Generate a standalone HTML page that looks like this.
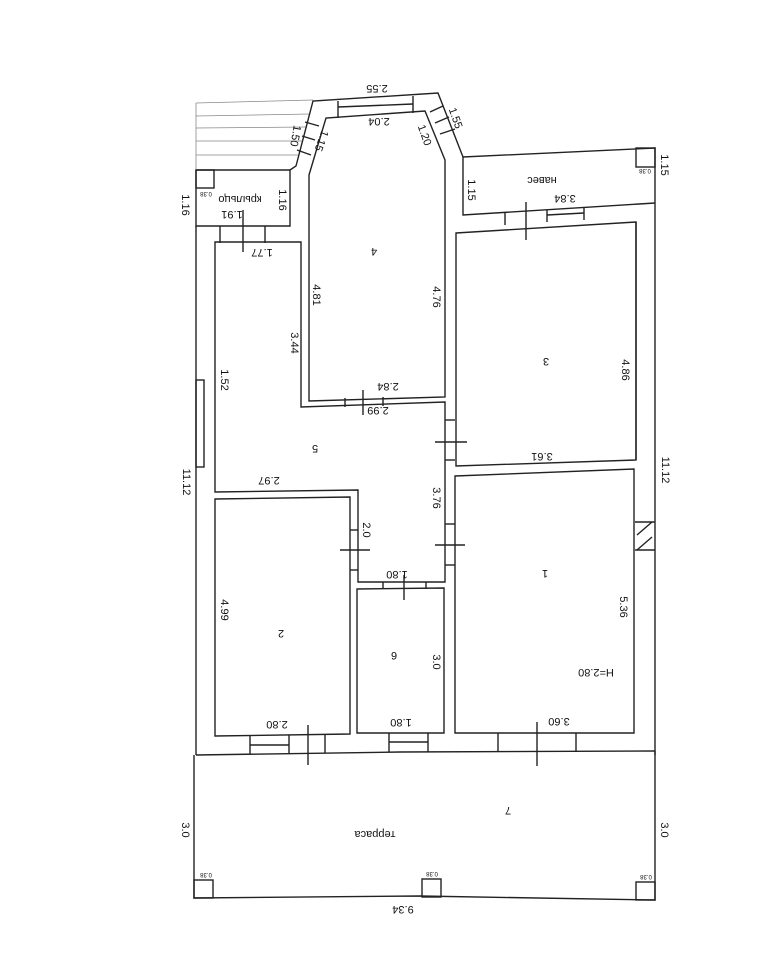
<!DOCTYPE html>
<html><head><meta charset="utf-8"><style>
html,body{margin:0;padding:0;background:#fff;}
svg{display:block}
text{font-family:"Liberation Sans",sans-serif;fill:#111;}
</style></head><body>
<svg width="776" height="970" viewBox="0 0 776 970" xmlns="http://www.w3.org/2000/svg">
<g fill="none" stroke="#222" stroke-width="1.4">
<!-- hatched area -->
<g stroke-width="0.8" stroke="#888">
<line x1="196" y1="103" x2="313" y2="100"/>
<line x1="196" y1="116" x2="310" y2="114"/>
<line x1="196" y1="128" x2="306" y2="127"/>
<line x1="196" y1="141" x2="303" y2="141"/>
<line x1="196" y1="155" x2="299" y2="155"/>
<line x1="196" y1="103" x2="196" y2="170"/>
</g>
<!-- outer bay -->
<polyline points="290,170 296,166 313,101 438,93 463,157 655,148 655,755"/>
<!-- inner bay / room 4 -->
<polygon points="309,175 326,118 425,111 445,160 445,397 309,401"/>
<line x1="338" y1="101" x2="338" y2="118"/><line x1="413" y1="96" x2="413" y2="113"/>
<line x1="338" y1="107" x2="413" y2="104"/>
<line x1="305" y1="122" x2="319" y2="126"/><line x1="297" y1="150" x2="311" y2="155"/>
<line x1="302" y1="136" x2="315" y2="140"/>
<line x1="430" y1="112" x2="443" y2="106"/><line x1="440" y1="134" x2="455" y2="129"/>
<line x1="435" y1="123" x2="449" y2="117"/>
<!-- крыльцо -->
<polyline points="196,170 196,226 290,226 290,170 196,170"/>
<rect x="196" y="170" width="18" height="18"/>
<line x1="220" y1="226" x2="220" y2="243"/><line x1="265" y1="226" x2="265" y2="243"/>
<line x1="243" y1="210" x2="243" y2="252"/>
<!-- навес -->
<polyline points="463,157 463,215 655,203"/>
<rect x="636" y="148" width="19" height="19"/>
<line x1="505" y1="213" x2="505" y2="225"/><line x1="547" y1="210" x2="547" y2="222"/><line x1="584" y1="208" x2="584" y2="220"/>
<line x1="547" y1="215" x2="584" y2="213"/>
<line x1="526" y1="202" x2="526" y2="240"/>
<!-- left outer wall -->
<line x1="196" y1="226" x2="196" y2="755"/>
<rect x="196" y="380" width="8" height="87"/>
<!-- room 5 -->
<polygon points="215,242 301,242 301,407 445,402 445,582 358,582 358,490 215,492"/>
<line x1="345" y1="398" x2="345" y2="407"/><line x1="383" y1="397" x2="383" y2="406"/>
<line x1="363" y1="390" x2="363" y2="415"/>
<line x1="445" y1="420" x2="455" y2="420"/><line x1="445" y1="460" x2="455" y2="460"/>
<line x1="435" y1="442" x2="467" y2="442"/>
<line x1="445" y1="524" x2="455" y2="524"/><line x1="445" y1="565" x2="455" y2="565"/>
<line x1="435" y1="545" x2="465" y2="545"/>
<!-- room 3 -->
<polygon points="456,233 636,222 636,460 456,466"/>
<line x1="636" y1="222" x2="636" y2="460"/>
<!-- room 1 -->
<polygon points="455,476 634,469 634,733 455,733"/>
<line x1="635" y1="522" x2="655" y2="522"/><line x1="635" y1="550" x2="655" y2="550"/>
<line x1="637" y1="535" x2="652" y2="522"/><line x1="637" y1="550" x2="652" y2="537"/>
<!-- room 2 -->
<polygon points="215,499 350,497 350,734 215,736"/>
<line x1="350" y1="530" x2="358" y2="530"/><line x1="350" y1="570" x2="358" y2="570"/>
<line x1="340" y1="550" x2="370" y2="550"/>
<!-- room 6 -->
<polygon points="357,589 444,588 444,733 357,733"/>
<line x1="383" y1="582" x2="383" y2="589"/><line x1="426" y1="582" x2="426" y2="589"/>
<line x1="404" y1="575" x2="404" y2="600"/>
<!-- south wall openings -->
<line x1="250" y1="735" x2="250" y2="754"/><line x1="289" y1="735" x2="289" y2="754"/>
<line x1="250" y1="745" x2="289" y2="745"/>
<line x1="325" y1="735" x2="325" y2="753"/><line x1="308" y1="725" x2="308" y2="765"/>
<line x1="389" y1="733" x2="389" y2="752"/><line x1="428" y1="733" x2="428" y2="752"/>
<line x1="389" y1="742" x2="428" y2="742"/>
<line x1="498" y1="733" x2="498" y2="752"/><line x1="576" y1="733" x2="576" y2="752"/>
<line x1="537" y1="722" x2="537" y2="766"/>
<!-- terrace -->
<polyline points="196,755 400,752 655,751"/>
<polyline points="194,755 194,898 420,896 655,900 655,751"/>
<rect x="194" y="880" width="19" height="18"/>
<rect x="422" y="879" width="19" height="18"/>
<rect x="636" y="882" width="19" height="18"/>
</g>
<g font-size="11">
<g transform="rotate(180 377 89)"><text x="377" y="93" text-anchor="middle">2.55</text></g>
<g transform="rotate(180 379 122)"><text x="379" y="126" text-anchor="middle">2.04</text></g>
<g transform="rotate(100 296 136)"><text x="296" y="140" text-anchor="middle">1.50</text></g>
<g transform="rotate(110 322 141)"><text x="322" y="145" text-anchor="middle">1.15</text></g>
<g transform="rotate(70 425 135)"><text x="425" y="139" text-anchor="middle">1.20</text></g>
<g transform="rotate(70 456 118)"><text x="456" y="122" text-anchor="middle">1.55</text></g>
<g transform="rotate(90 186 205)"><text x="186" y="209" text-anchor="middle">1.16</text></g>
<g transform="rotate(90 283 200)"><text x="283" y="204" text-anchor="middle">1.16</text></g>
<g transform="rotate(180 240 200)"><text x="240" y="204" text-anchor="middle">крыльцо</text></g>
<g transform="rotate(180 232 215)"><text x="232" y="219" text-anchor="middle">1.91</text></g>
<g transform="rotate(180 262 253)"><text x="262" y="257" text-anchor="middle">1.77</text></g>
<g transform="rotate(90 472 190)"><text x="472" y="194" text-anchor="middle">1.15</text></g>
<g transform="rotate(90 665 165)"><text x="665" y="169" text-anchor="middle">1.15</text></g>
<g transform="rotate(180 542 181)"><text x="542" y="185" text-anchor="middle">навес</text></g>
<g transform="rotate(180 565 199)"><text x="565" y="203" text-anchor="middle">3.84</text></g>
<g transform="rotate(180 374 252)"><text x="374" y="256" text-anchor="middle">4</text></g>
<g transform="rotate(90 317 295)"><text x="317" y="299" text-anchor="middle">4.81</text></g>
<g transform="rotate(90 437 297)"><text x="437" y="301" text-anchor="middle">4.76</text></g>
<g transform="rotate(90 295 343)"><text x="295" y="347" text-anchor="middle">3.44</text></g>
<g transform="rotate(90 225 380)"><text x="225" y="384" text-anchor="middle">1.52</text></g>
<g transform="rotate(180 546 362)"><text x="546" y="366" text-anchor="middle">3</text></g>
<g transform="rotate(90 626 370)"><text x="626" y="374" text-anchor="middle">4.86</text></g>
<g transform="rotate(180 388 387)"><text x="388" y="391" text-anchor="middle">2.84</text></g>
<g transform="rotate(180 378 411)"><text x="378" y="415" text-anchor="middle">2.99</text></g>
<g transform="rotate(180 315 449)"><text x="315" y="453" text-anchor="middle">5</text></g>
<g transform="rotate(180 542 457)"><text x="542" y="461" text-anchor="middle">3.61</text></g>
<g transform="rotate(90 187 482)"><text x="187" y="486" text-anchor="middle">11.12</text></g>
<g transform="rotate(90 666 470)"><text x="666" y="474" text-anchor="middle">11.12</text></g>
<g transform="rotate(180 269 481)"><text x="269" y="485" text-anchor="middle">2.97</text></g>
<g transform="rotate(90 437 498)"><text x="437" y="502" text-anchor="middle">3.76</text></g>
<g transform="rotate(90 367 530)"><text x="367" y="534" text-anchor="middle">2.0</text></g>
<g transform="rotate(180 545 574)"><text x="545" y="578" text-anchor="middle">1</text></g>
<g transform="rotate(180 397 575)"><text x="397" y="579" text-anchor="middle">1.80</text></g>
<g transform="rotate(90 624 607)"><text x="624" y="611" text-anchor="middle">5.36</text></g>
<g transform="rotate(90 225 610)"><text x="225" y="614" text-anchor="middle">4.99</text></g>
<g transform="rotate(180 281 634)"><text x="281" y="638" text-anchor="middle">2</text></g>
<g transform="rotate(180 394 656)"><text x="394" y="660" text-anchor="middle">6</text></g>
<g transform="rotate(90 437 662)"><text x="437" y="666" text-anchor="middle">3.0</text></g>
<g transform="rotate(180 596 673)"><text x="596" y="677" text-anchor="middle">H=2.80</text></g>
<g transform="rotate(180 277 725)"><text x="277" y="729" text-anchor="middle">2.80</text></g>
<g transform="rotate(180 401 723)"><text x="401" y="727" text-anchor="middle">1.80</text></g>
<g transform="rotate(180 559 722)"><text x="559" y="726" text-anchor="middle">3.60</text></g>
<g transform="rotate(180 508 811)"><text x="508" y="815" text-anchor="middle">7</text></g>
<g transform="rotate(180 375 835)"><text x="375" y="839" text-anchor="middle">терраса</text></g>
<g transform="rotate(90 186 830)"><text x="186" y="834" text-anchor="middle">3.0</text></g>
<g transform="rotate(90 665 830)"><text x="665" y="834" text-anchor="middle">3.0</text></g>
<g transform="rotate(180 403 910)"><text x="403" y="914" text-anchor="middle">9.34</text></g>
</g>
<g font-size="6">
<g transform="rotate(180 206 194)"><text x="206" y="196" text-anchor="middle">0.38</text></g>
<g transform="rotate(180 645 171)"><text x="645" y="173" text-anchor="middle">0.38</text></g>
<g transform="rotate(180 206 875)"><text x="206" y="877" text-anchor="middle">0.38</text></g>
<g transform="rotate(180 432 874)"><text x="432" y="876" text-anchor="middle">0.38</text></g>
<g transform="rotate(180 646 877)"><text x="646" y="879" text-anchor="middle">0.38</text></g>
</g>
</svg>
</body></html>
